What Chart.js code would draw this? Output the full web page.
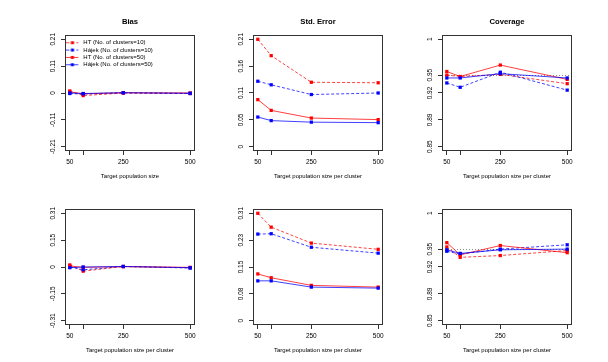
<!DOCTYPE html>
<html><head><meta charset="utf-8">
<script src="https://cdn.jsdelivr.net/npm/chart.js@4.4.1/dist/chart.umd.min.js"></script>
<style>
html,body{margin:0;padding:0;background:#fff;width:608px;height:362px;overflow:hidden;position:relative}
canvas{position:absolute}
</style></head><body>
<script>
// ---------- data ----------
const xValues = [50, 100, 250, 500];
const xTickLabels = ['50', '', '250', '500'];
const seriesNames = ['HT (No. of clusters=10)', 'Hájek (No. of clusters=10)', 'HT (No. of clusters=50)', 'Hájek (No. of clusters=50)'];

// top row
const topBiasHT10    = [0.008, -0.010, 0.000, -0.002];
const topBiasHajek10 = [-0.002, -0.004, 0.001, -0.002];
const topBiasHT50    = [0.004, -0.003, 0.001, 0.000];
const topBiasHajek50 = [0.000, -0.002, 0.001, -0.001];

const topSeHT10    = [0.210, 0.178, 0.126, 0.125];
const topSeHajek10 = [0.128, 0.121, 0.102, 0.105];
const topSeHT50    = [0.092, 0.071, 0.056, 0.053];
const topSeHajek50 = [0.058, 0.051, 0.048, 0.047];

const topCovHT10    = [0.950, 0.948, 0.951, 0.938];
const topCovHajek10 = [0.939, 0.933, 0.954, 0.929];
const topCovHT50    = [0.955, 0.948, 0.964, 0.944];
const topCovHajek50 = [0.946, 0.946, 0.952, 0.946];

// bottom row
const botBiasHT10    = [0.012, -0.024, 0.003, -0.004];
const botBiasHajek10 = [0.000, -0.016, 0.003, -0.006];
const botBiasHT50    = [0.006, -0.002, 0.002, -0.002];
const botBiasHajek50 = [-0.004, 0.000, 0.003, -0.004];

const botSeHT10    = [0.310, 0.270, 0.224, 0.206];
const botSeHajek10 = [0.250, 0.251, 0.212, 0.195];
const botSeHT50    = [0.135, 0.124, 0.102, 0.097];
const botSeHajek50 = [0.115, 0.115, 0.097, 0.094];

const botCovHT10    = [0.953, 0.9385, 0.941, 0.948];
const botCovHajek10 = [0.947, 0.943, 0.950, 0.956];
const botCovHT50    = [0.959, 0.942, 0.955, 0.945];
const botCovHajek50 = [0.949, 0.944, 0.949, 0.950];

// y tick values and labels
const topBiasTicks = [-0.21, -0.105, 0, 0.105, 0.21];
const topBiasLabels = ['-0.21', '-0.11', '0', '0.11', '0.21'];
const topSeTicks = [0, 0.0525, 0.105, 0.1575, 0.21];
const topSeLabels = ['0', '0.05', '0.11', '0.16', '0.21'];
const covTicks = [0.85, 0.8875, 0.925, 0.95, 1];
const covLabels = ['0.85', '0.89', '0.92', '0.95', '1'];
const botBiasTicks = [-0.31, -0.155, 0, 0.155, 0.31];
const botBiasLabels = ['-0.31', '-0.15', '0', '0.15', '0.31'];
const botSeTicks = [0, 0.0775, 0.155, 0.2325, 0.31];
const botSeLabels = ['0', '0.08', '0.15', '0.23', '0.31'];
const NOMINAL = 0.95;

// ---------- styling / layout ----------
const FONT = "'Liberation Sans', Arial, Helvetica, sans-serif";
const COLORS = ['#ff0000', '#0000ff', '#ff0000', '#0000ff'];
const LINECOLORS = ['rgba(255,0,0,0.75)', 'rgba(0,0,255,0.75)', 'rgba(255,0,0,0.75)', 'rgba(0,0,255,0.75)'];
const DASHES = [[3, 2], [3, 2], [], []];
const COLS = [65, 253, 442];
const ROWS = [35, 209];
const BOX_W = 130, BOX_H = 116, M_L = 50, M_R = 50, M_T = 35, M_B = 35;

const panels = [
  {r:0, c:0, title:'Bias', xTitle:'Target population size', series:[topBiasHT10, topBiasHajek10, topBiasHT50, topBiasHajek50], yTicks:topBiasTicks, yLabels:topBiasLabels, legend:true},
  {r:0, c:1, title:'Std. Error', xTitle:'Target population size per cluster', series:[topSeHT10, topSeHajek10, topSeHT50, topSeHajek50], yTicks:topSeTicks, yLabels:topSeLabels},
  {r:0, c:2, title:'Coverage', xTitle:'Target population size per cluster', series:[topCovHT10, topCovHajek10, topCovHT50, topCovHajek50], yTicks:covTicks, yLabels:covLabels, ref:NOMINAL},
  {r:1, c:0, title:'', xTitle:'Target population size per cluster', series:[botBiasHT10, botBiasHajek10, botBiasHT50, botBiasHajek50], yTicks:botBiasTicks, yLabels:botBiasLabels},
  {r:1, c:1, title:'', xTitle:'Target population size per cluster', series:[botSeHT10, botSeHajek10, botSeHT50, botSeHajek50], yTicks:botSeTicks, yLabels:botSeLabels},
  {r:1, c:2, title:'', xTitle:'Target population size per cluster', series:[botCovHT10, botCovHajek10, botCovHT50, botCovHajek50], yTicks:covTicks, yLabels:covLabels, ref:NOMINAL}
];

function makeIcon(i) {
  const c = document.createElement('canvas'); c.width = 14; c.height = 5;
  const g = c.getContext('2d');
  g.strokeStyle = LINECOLORS[i]; g.lineWidth = 1; g.setLineDash(DASHES[i]);
  g.beginPath(); g.moveTo(0, 2.5); g.lineTo(12, 2.5); g.stroke();
  g.fillStyle = COLORS[i]; g.fillRect(4.5, 1, 3, 3);
  return c;
}
const icons = [0, 1, 2, 3].map(makeIcon);

const rPlot = {
  id: 'rPlot',
  beforeDraw(chart) {
    const lg = chart.legend;
    if (lg && lg.options.display) {
      const h = lg.height, w = lg.width;
      lg.top = chart.chartArea.top; lg.bottom = lg.top + h;
      lg.left = chart.chartArea.left; lg.right = lg.left + w;
    }
  },
  beforeDatasetsDraw(chart, args, opts) {
    if (opts.ref == null) return;
    const {ctx, chartArea: a, scales} = chart;
    const y = Math.round(scales.y.getPixelForValue(opts.ref)) + 0.5;
    ctx.save();
    ctx.strokeStyle = '#8c8c8c'; ctx.lineWidth = 1; ctx.setLineDash([1, 2]);
    ctx.beginPath(); ctx.moveTo(a.left, y); ctx.lineTo(a.right, y); ctx.stroke();
    ctx.restore();
  },
  afterDraw(chart, args, opts) {
    const {ctx, chartArea: a, scales} = chart;
    ctx.save();
    ctx.strokeStyle = '#333'; ctx.lineWidth = 1; ctx.setLineDash([]);
    ctx.strokeRect(a.left + 0.5, a.top + 0.5, a.width - 1, a.height - 1);
    ctx.fillStyle = '#000'; ctx.font = '6.5px ' + FONT;
    ctx.textAlign = 'center'; ctx.textBaseline = 'middle';
    opts.yTicks.forEach((v, i) => {
      const y = scales.y.getPixelForValue(v);
      ctx.save(); ctx.translate(a.left - 11.5, y); ctx.rotate(-Math.PI / 2);
      ctx.fillText(opts.yLabels[i], 0, 0); ctx.restore();
    });
    ctx.restore();
  }
};

panels.forEach(p => {
  const L = COLS[p.c], T = ROWS[p.r];
  const cv = document.createElement('canvas');
  cv.width = M_L + BOX_W + M_R; cv.height = M_T + BOX_H + M_B;
  cv.style.left = (L - M_L) + 'px'; cv.style.top = (T - M_T) + 'px';
  document.body.appendChild(cv);
  const yr = p.yTicks[p.yTicks.length - 1] - p.yTicks[0];
  const yMin = p.yTicks[0] - 0.04 * yr, yMax = p.yTicks[p.yTicks.length - 1] + 0.04 * yr;
  const xr = xValues[xValues.length - 1] - xValues[0];
  const xMin = xValues[0] - 0.04 * xr, xMax = xValues[xValues.length - 1] + 0.04 * xr;
  const hasTitle = !!p.title;
  new Chart(cv, {
    type: 'line',
    data: {
      datasets: p.series.map((vals, i) => ({
        label: seriesNames[i],
        data: xValues.map((x, j) => ({x, y: vals[j]})),
        borderColor: LINECOLORS[i], borderWidth: 1, borderDash: DASHES[i],
        pointStyle: 'rect', pointRadius: 2.3, pointHoverRadius: 2.3,
        pointBackgroundColor: COLORS[i], pointBorderWidth: 0,
        fill: false, tension: 0, order: -i, clip: false
      }))
    },
    options: {
      responsive: false, animation: false, devicePixelRatio: 1,
      layout: {padding: {left: 0, right: 0, top: hasTitle ? 0 : M_T, bottom: 0}},
      events: [],
      scales: {
        x: {
          type: 'linear', min: xMin, max: xMax,
          afterBuildTicks: s => { s.ticks = xValues.map(v => ({value: v})); },
          ticks: {autoSkip: false, maxRotation: 0, minRotation: 0, padding: 3.7, color: '#000',
                  font: {size: 6.5, family: FONT},
                  callback: v => { const k = xValues.indexOf(v); return k < 0 ? '' : xTickLabels[k]; }},
          grid: {drawOnChartArea: false, drawTicks: true, tickLength: 4, color: '#333', lineWidth: 1},
          border: {display: false},
          title: {display: true, text: p.xTitle, color: '#000', font: {size: 6, family: FONT}, padding: {top: 0, bottom: 6.2}},
          afterFit: s => { s.height = M_B; }
        },
        y: {
          type: 'linear', min: yMin, max: yMax,
          afterBuildTicks: s => { s.ticks = p.yTicks.map(v => ({value: v})); },
          ticks: {display: false},
          grid: {drawOnChartArea: false, drawTicks: true, tickLength: 4, color: '#333', lineWidth: 1},
          border: {display: false},
          afterFit: s => { s.width = M_L; }
        },
        ySpacer: {
          type: 'linear', position: 'right', display: true,
          ticks: {display: false}, grid: {display: false}, border: {display: false},
          afterFit: s => { s.width = M_R; }
        }
      },
      plugins: {
        tooltip: {enabled: false},
        title: {display: hasTitle, text: p.title, color: '#000',
                font: {size: 7.7, weight: 'bold', family: FONT}, padding: {top: 16.9, bottom: 8.86}},
        legend: {
          display: !!p.legend, position: 'chartArea', align: 'start',
          title: {display: true, text: ' ', font: {size: 2}, padding: {top: 1, bottom: 0}},
          labels: {
            usePointStyle: true, pointStyleWidth: 14, padding: 1.33, color: '#000',
            font: {size: 6, family: FONT},
            generateLabels: chart => chart.data.datasets.map((ds, i) => ({
              text: ds.label, pointStyle: icons[i], fillStyle: 'transparent', strokeStyle: 'transparent',
              lineWidth: 0, hidden: false, datasetIndex: i, fontColor: '#000'
            }))
          }
        },
        rPlot: {ref: p.ref, yTicks: p.yTicks, yLabels: p.yLabels}
      }
    },
    plugins: [rPlot]
  });
});
</script>
</body></html>
